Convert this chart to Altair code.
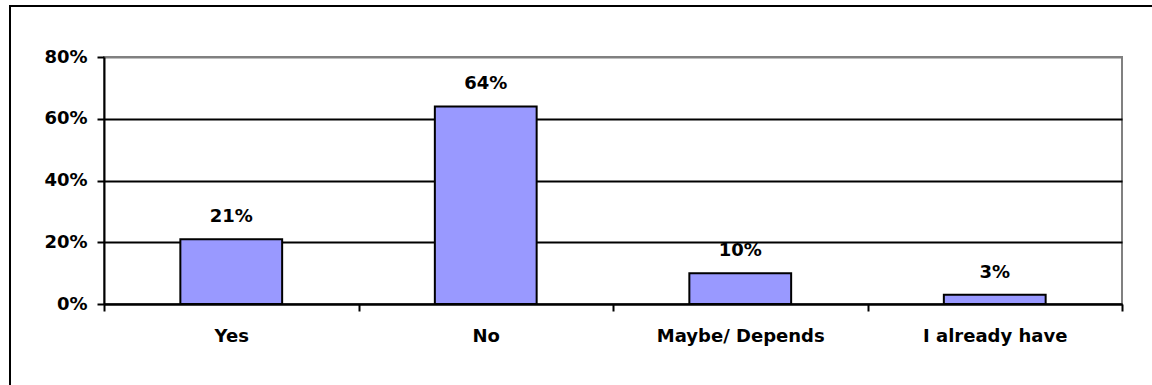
import altair as alt
import pandas as pd

# Survey answers and their shares
answers = ["Yes", "No", "Maybe/ Depends", "I already have"]
shares = [0.21, 0.64, 0.10, 0.03]
y_ticks = [0.0, 0.2, 0.4, 0.6, 0.8]

df = pd.DataFrame({"answer": answers, "share": shares})

FONT = "DejaVu Sans"
FONT_SIZE = 18
BAR_FILL = "#9999FF"
PLOT_W, PLOT_H = 1018, 247

x_enc = alt.X(
    "answer:N",
    sort=answers,
    title=None,
    scale=alt.Scale(paddingInner=0, paddingOuter=0),
    axis=alt.Axis(
        labelAngle=0,
        tickBand="extent",
        grid=False,
        domainColor="black",
        domainWidth=2,
        tickColor="black",
        tickWidth=2,
        tickSize=7,
        labelFont=FONT,
        labelFontWeight="bold",
        labelFontSize=FONT_SIZE,
        labelColor="black",
        labelPadding=16,
    ),
)

y_enc = alt.Y(
    "share:Q",
    title=None,
    scale=alt.Scale(domain=[0, 0.8], nice=False),
    axis=alt.Axis(
        values=y_ticks,
        format=".0%",
        grid=True,
        gridColor={"condition": {"test": "datum.value >= 0.8", "value": "#808080"}, "value": "black"},
        gridWidth=2,
        domainColor="black",
        domainWidth=2,
        tickColor="black",
        tickWidth=2,
        tickSize=7,
        labelFont=FONT,
        labelFontWeight="bold",
        labelFontSize=FONT_SIZE,
        labelColor="black",
        labelPadding=10,
    ),
)

base = alt.Chart(df)

bars = base.mark_bar(
    width={"band": 0.4}, fill=BAR_FILL, stroke="black", strokeWidth=2
).encode(x=x_enc, y=y_enc)

values = base.mark_text(
    dy=-17, baseline="alphabetic", font=FONT, fontWeight="bold", fontSize=FONT_SIZE, color="black"
).encode(
    x=alt.X("answer:N", sort=answers),
    y=alt.Y("share:Q"),
    text=alt.Text("share:Q", format=".0%"),
)

# Outer frame around the whole figure
frame = alt.Chart(pd.DataFrame({"k": [0]})).mark_rect(
    fillOpacity=0, stroke="black", strokeWidth=2
).encode(
    x=alt.value(-94), x2=alt.value(1300), y=alt.value(-51), y2=alt.value(500)
)

chart = (
    alt.layer(frame, bars, values)
    .properties(
        width=PLOT_W,
        height=PLOT_H,
        autosize=alt.AutoSizeParams(type="none"),
        padding={"left": 104, "top": 57, "right": 30, "bottom": 81},
        background="white",
    )
    .configure_view(stroke="#808080", strokeWidth=2)
)

chart.save("out.html", embed_options={"renderer": "svg", "actions": False})
